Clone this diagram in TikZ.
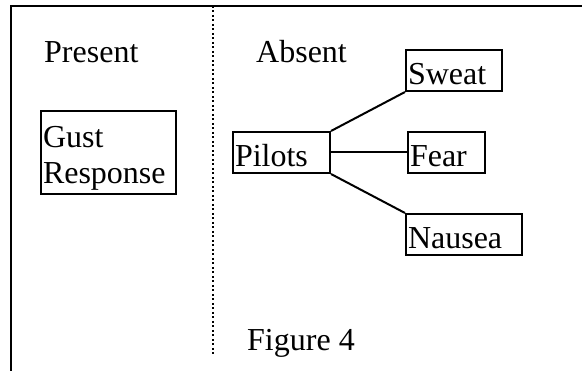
\documentclass[tikz,border=0pt]{standalone}
\usepackage{fontspec}
\setmainfont{Liberation Serif}
\usetikzlibrary{positioning}

\begin{document}
\begin{tikzpicture}[x=1pt,y=-1pt,
	every node/.style={font=\fontsize{32}{36}\selectfont},
	box/.style={draw,line width=2pt,anchor=north west,inner xsep=2pt,inner ysep=0pt,
		align=left,text height=35pt,text depth=6pt},
	word/.style={anchor=base west,inner sep=0pt},
	link/.style={line width=2pt}]
	\useasboundingbox (0,0) rectangle (582,371);

	% frame and divider
	\draw[line width=2pt] (582,6) -- (11,6) -- (11,371);
	\draw[line width=1.8pt,dash pattern=on 1.8pt off 2.7pt] (213,6) -- (213,356);

	\node[word] (present) at (44,63)  {Present};
	\node[word] (absent)  at (256,63) {Absent};
	\node[word] (fig)     at (247,351) {Figure 4};

	% first baseline sets the box height here
	\node[box,text width=131pt,text height=37pt,text depth=46pt] (gust) at (40,110) {Gust\\Response};

	\node[box,text width=93pt]  (pilots) at (232,131) {Pilots};
	\node[box,text width=92pt]  (sweat)  at (405,49)  {Sweat};
	\node[box,text width=73pt]  (fear)   [right=76pt of pilots] {Fear};
	\node[box,text width=112pt] (nausea) at (405,213) {Nausea};

	\path[link]
	(pilots.north east) edge (sweat.south west)
	(pilots.east)       edge (fear.west)
	(pilots.south east) edge (nausea.north west);
\end{tikzpicture}
\end{document}
